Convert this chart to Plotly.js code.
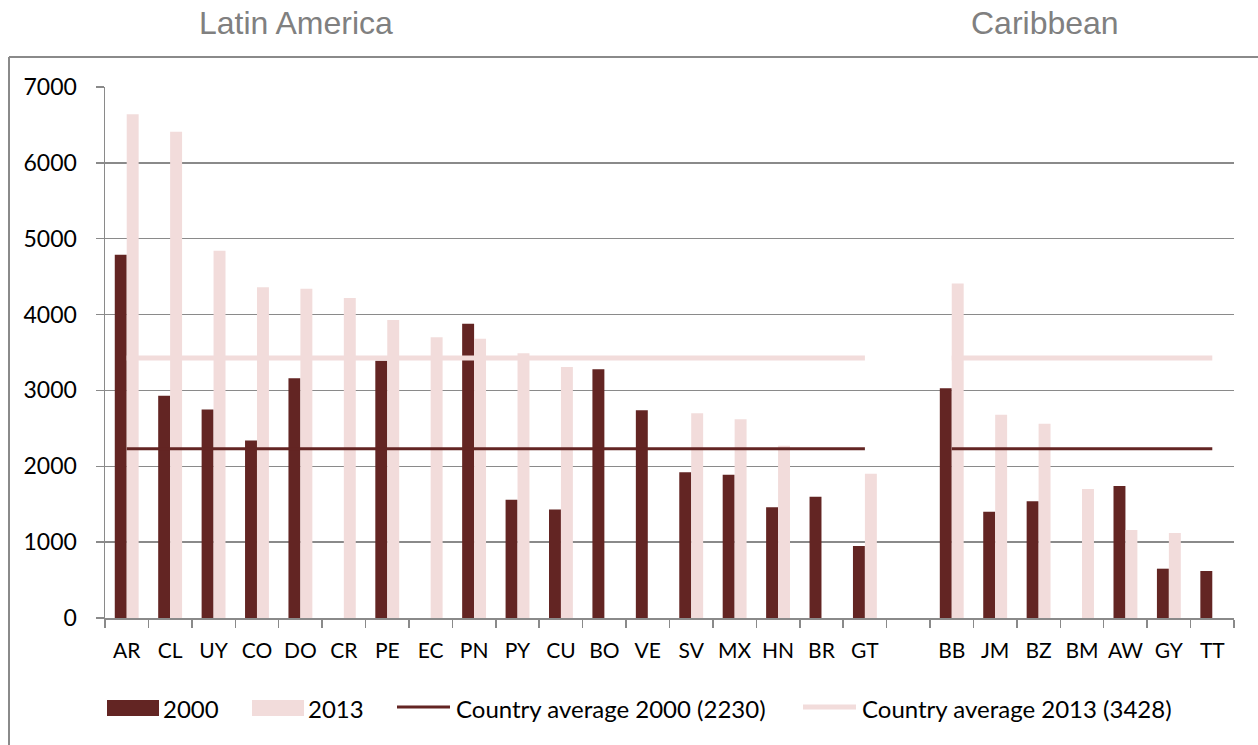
<!DOCTYPE html>
<html>
<head>
<meta charset="utf-8">
<script src="https://cdn.plot.ly/plotly-3.0.1.min.js"></script>
<style>
html,body{margin:0;padding:0;background:#fff;}
#chart{width:1258px;height:745px;}
</style>
</head>
<body>
<div id="chart"></div>
<script>
// ---- data ----
const categories = ["AR","CL","UY","CO","DO","CR","PE","EC","PN","PY","CU","BO","VE","SV","MX","HN","BR","GT"," ","BB","JM","BZ","BM","AW","GY","TT"];
const values2000 = [4790,2930,2750,2340,3160,null,3390,null,3880,1560,1430,3280,2740,1920,1890,1460,1600,950,null,3030,1400,1540,null,1740,650,620];
const values2013 = [6640,6410,4840,4360,4340,4220,3930,3700,3680,3490,3310,null,null,2700,2620,2270,null,1900,null,4410,2680,2560,1700,1160,1120,null];
const avgLineX = ["AR","GT"," ","BB","TT"];
const avg2000Y = [2230,2230,null,2230,2230];
const avg2013Y = [3428,3428,null,3428,3428];
const seriesNames = ["2000","2013","Country average 2000 (2230)","Country average 2013 (3428)"];
const groupTitles = ["Latin America","Caribbean"];
const yTicks = [0,1000,2000,3000,4000,5000,6000,7000];

// ---- style ----
const DARK = "#632523";
const LIGHT = "#F2DCDB";
const GRID = "#8a8a8a";
const FONT = "Lato, 'Open Sans', sans-serif";

const M = {l:105, r:24, t:87, b:127};
const W = 1258, H = 745;
const pw = W - M.l - M.r, ph = H - M.t - M.b;
const px = x => (x - M.l) / pw;
const py = y => (H - M.b - y) / ph;

const traces = [
  {type:"bar", x:categories, y:values2000, name:seriesNames[0], marker:{color:DARK}, hoverinfo:"x+y"},
  {type:"bar", x:categories, y:values2013, name:seriesNames[1], marker:{color:LIGHT}, hoverinfo:"x+y"},
  {type:"scatter", mode:"lines", x:avgLineX, y:avg2000Y, name:seriesNames[2], connectgaps:false, line:{color:DARK, width:3}},
  {type:"scatter", mode:"lines", x:avgLineX, y:avg2013Y, name:seriesNames[3], connectgaps:false, line:{color:LIGHT, width:5}}
];

const shapes = [
  // outer chart border (top and left edges visible)
  {type:"line", xref:"paper", yref:"paper", x0:px(9), x1:px(1262), y0:py(57), y1:py(57), line:{color:GRID, width:2}},
  {type:"line", xref:"paper", yref:"paper", x0:px(9), x1:px(9), y0:py(57), y1:py(750), line:{color:GRID, width:2}},
  // legend keys
  {type:"rect", xref:"paper", yref:"paper", x0:px(107), x1:px(159), y0:py(716), y1:py(700), line:{width:0}, fillcolor:DARK},
  {type:"rect", xref:"paper", yref:"paper", x0:px(252), x1:px(304), y0:py(716), y1:py(700), line:{width:0}, fillcolor:LIGHT},
  {type:"line", xref:"paper", yref:"paper", x0:px(397), x1:px(450), y0:py(707), y1:py(707), line:{color:DARK, width:3}},
  {type:"line", xref:"paper", yref:"paper", x0:px(803), x1:px(856), y0:py(707), y1:py(707), line:{color:LIGHT, width:5}}
];

const legendTextX = [161, 306, 454, 860];
const annotations = seriesNames.map((n,i) => ({
  xref:"paper", yref:"paper", x:px(legendTextX[i]), y:py(708), xanchor:"left", yanchor:"middle",
  text:n, showarrow:false, font:{family:FONT, size:24, color:"#000"}
}));
annotations.push(
  {xref:"paper", yref:"paper", x:px(296), y:py(23), xanchor:"center", yanchor:"middle", text:groupTitles[0], showarrow:false,
   font:{family:"'Liberation Sans', Arial, sans-serif", size:32, color:"#808080"}},
  {xref:"paper", yref:"paper", x:px(1045), y:py(23), xanchor:"center", yanchor:"middle", text:groupTitles[1], showarrow:false,
   font:{family:"'Liberation Sans', Arial, sans-serif", size:32, color:"#808080"}}
);

const layout = {
  width:W, height:H, margin:M,
  paper_bgcolor:"#fff", plot_bgcolor:"#fff",
  barmode:"group", bargap:0.45, bargroupgap:0,
  showlegend:false,
  xaxis:{
    type:"category", categoryorder:"array", categoryarray:categories, range:[-0.5, categories.length-0.5],
    tickson:"boundaries", ticks:"outside", ticklen:8, tickcolor:GRID, tickwidth:1.5, tickangle:0,
    showline:true, linecolor:GRID, linewidth:1.5, showgrid:false, zeroline:false,
    tickfont:{family:FONT, size:21, color:"#000"}, ticklabelstandoff:13, fixedrange:true
  },
  yaxis:{
    range:[0,7000], tickvals:yTicks, ticktext:yTicks.map(String),
    showgrid:true, gridcolor:GRID, gridwidth:1.5, zeroline:false,
    showline:true, linecolor:GRID, linewidth:1.5, ticks:"outside", ticklen:8, tickcolor:GRID, tickwidth:1.5,
    tickfont:{family:FONT, size:23, color:"#000"}, ticklabelstandoff:14, fixedrange:true
  },
  shapes:shapes, annotations:annotations
};

Plotly.newPlot("chart", traces, layout, {displayModeBar:false, staticPlot:true});
</script>
</body>
</html>
